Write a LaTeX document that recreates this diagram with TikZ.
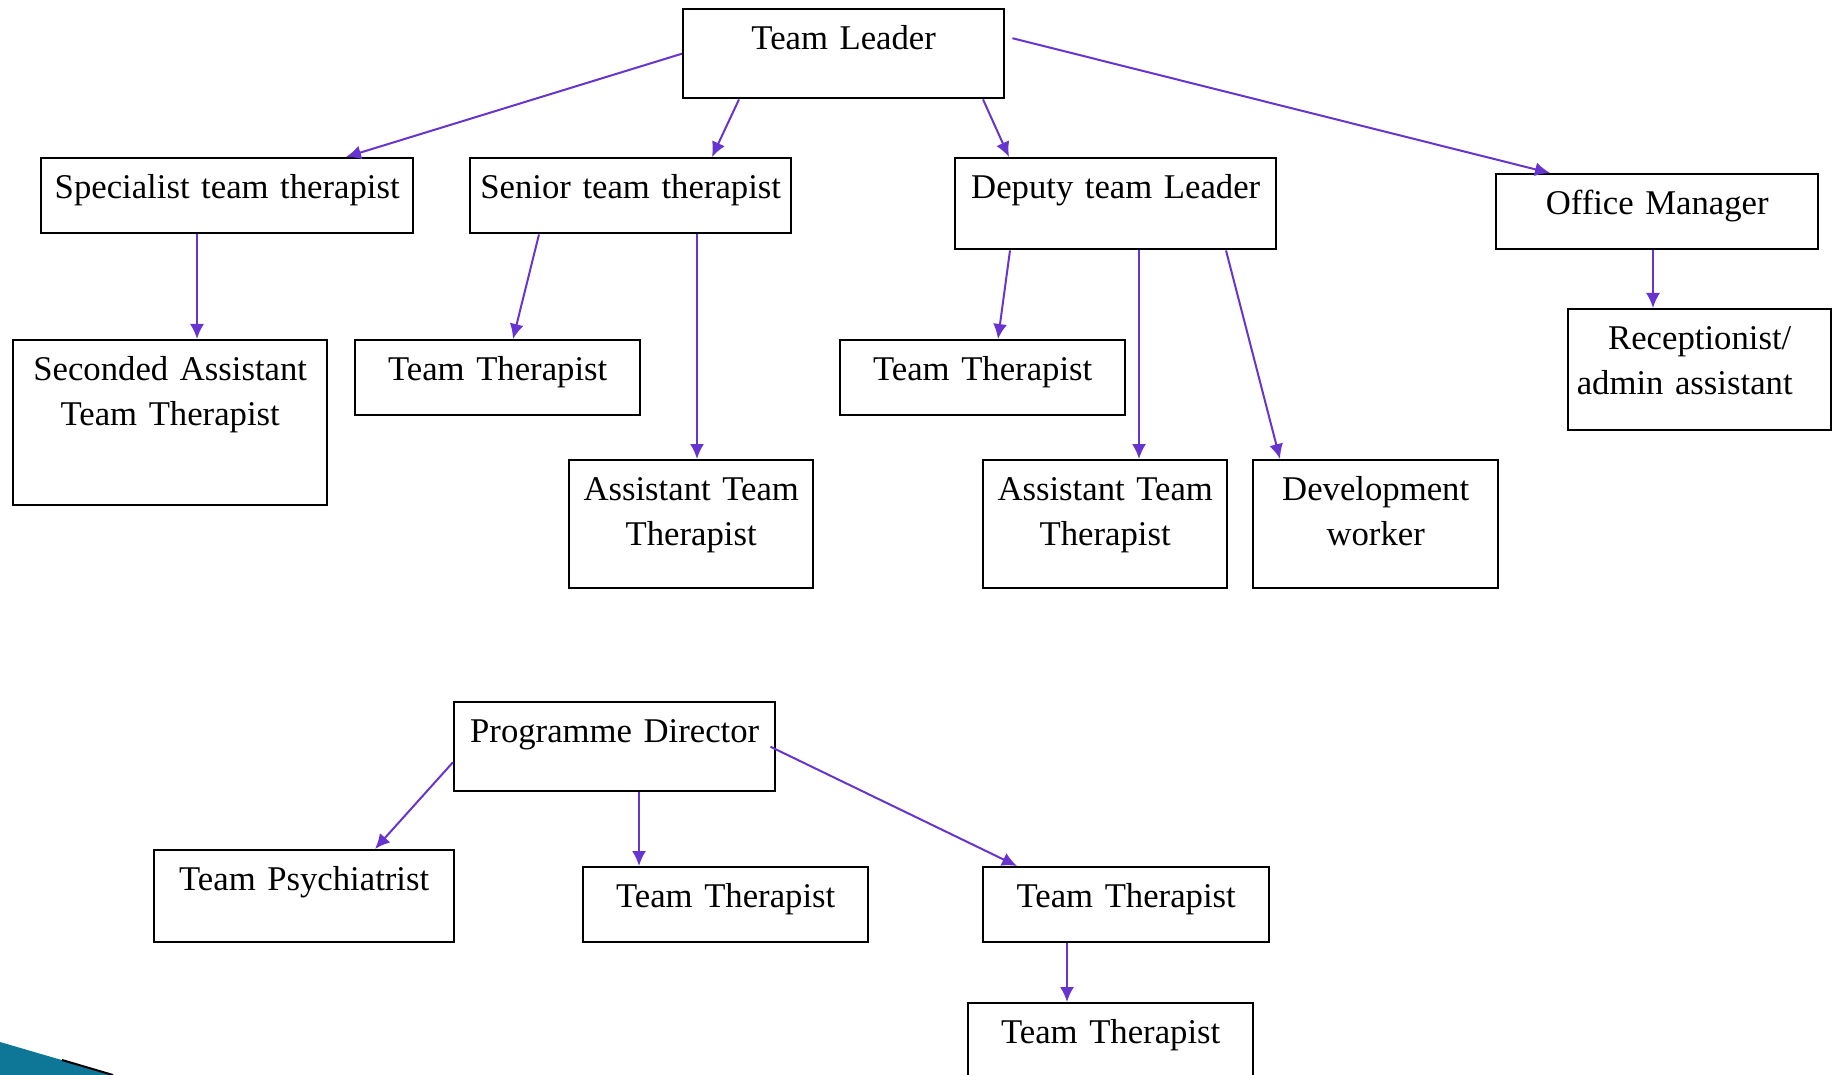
\documentclass[tikz,border=0pt]{standalone}
\usepackage{fontspec}
\setmainfont{Liberation Serif}
\usepackage{tikz}
\usetikzlibrary{arrows.meta}
\definecolor{linkpurple}{RGB}{104,52,208}
\definecolor{wedgeteal}{RGB}{14,118,150}
\tikzset{
  >={Latex[length=15pt,width=14pt]},
}
\tikzstyle{orgbox}=[draw,line width=2.4pt,anchor=north west,inner sep=0pt,align=center,text height=40.5pt,font=\fontsize{34.7}{44.5}\selectfont]
\tikzstyle{link}=[->,line width=2pt,linkpurple]

\begin{document}
\begin{tikzpicture}[x=1pt,y=-1pt]
    \useasboundingbox (0,0) rectangle (1837,1075);
    % upper chart
    \node[orgbox,text width=321pt,text depth=48.5pt] (tl) at (682,8) {Team Leader};
    \node[orgbox,text width=372pt,text depth=34.5pt] (spec) at (40,157) {Specialist team therapist};
    \node[orgbox,text width=321pt,text depth=34.5pt] (senior) at (469,157) {Senior team therapist};
    \node[orgbox,text width=321pt,text depth=50.5pt] (deputy) at (954,157) {Deputy team Leader};
    \node[orgbox,text width=322pt,text depth=34.5pt] (office) at (1495,173) {Office Manager};
    \node[orgbox,text width=314pt,text depth=124.5pt] (seconded) at (12,339) {Seconded Assistant\\Team Therapist};
    \node[orgbox,text width=285pt,text depth=34.5pt] (tta) at (354,339) {Team Therapist};
    \node[orgbox,text width=244pt,text depth=87.5pt] (atta) at (568,459) {Assistant Team\\Therapist};
    \node[orgbox,text width=285pt,text depth=34.5pt] (ttb) at (839,339) {Team Therapist};
    \node[orgbox,text width=244pt,text depth=87.5pt] (attb) at (982,459) {Assistant Team\\Therapist};
    \node[orgbox,text width=245pt,text depth=87.5pt] (dev) at (1252,459) {Development\\worker};
    \node[orgbox,text width=263pt,text depth=80.5pt] (recep) at (1567,308) {Receptionist/\\admin assistant\hspace*{30pt}\mbox{}};
    \draw[link] (tl.west) -- ([xshift=306pt]spec.north west);
    \draw[link] ([xshift=57pt]tl.south west) -- ([xshift=243pt]senior.north west);
    \draw[link] ([xshift=301pt]tl.south west) -- ([xshift=55pt]deputy.north west);
    \draw[link] ([xshift=7pt,yshift=15.5pt]tl.east) -- ([xshift=55pt]office.north west);
    \draw[link] ([xshift=157pt]spec.south west) -- ([xshift=185pt]seconded.north west);
    \draw[link] ([xshift=70pt]senior.south west) -- ([xshift=159pt]tta.north west);
    \draw[link] ([xshift=228pt]senior.south west) -- ([xshift=129pt]atta.north west);
    \draw[link] ([xshift=56pt]deputy.south west) -- ([xshift=159pt]ttb.north west);
    \draw[link] ([xshift=185pt]deputy.south west) -- ([xshift=157pt]attb.north west);
    \draw[link] ([xshift=272pt]deputy.south west) -- ([xshift=28pt]dev.north west);
    \draw[link] ([xshift=158pt]office.south west) -- ([xshift=86pt]recep.north west);
    % lower chart
    \node[orgbox,text width=321pt,text depth=48.5pt] (pd) at (453,701) {Programme Director};
    \node[orgbox,text width=300pt,text depth=51.5pt] (psych) at (153,849) {Team Psychiatrist};
    \node[orgbox,text width=285pt,text depth=34.5pt] (ttc) at (582,866) {Team Therapist};
    \node[orgbox,text width=286pt,text depth=34.5pt] (ttd) at (982,866) {Team Therapist};
    \node[orgbox,text width=285pt,text depth=34.5pt] (tte) at (967,1002) {Team Therapist};
    \draw[link] ([yshift=-15.5pt]pd.west) -- ([xshift=222pt]psych.north west);
    \draw[link] ([xshift=186pt]pd.south west) -- ([xshift=57pt]ttc.north west);
    \draw[link] ([xshift=-6pt]pd.east) -- ([xshift=35pt]ttd.north west);
    \draw[link] ([xshift=85pt]ttd.south west) -- ([xshift=100pt]tte.north west);
    % corner wedge
    \fill[wedgeteal] (0,1042) -- (113,1075) -- (0,1075) -- cycle;
    \draw[line width=2pt,black] (62,1060) -- (113,1075);
\end{tikzpicture}
\end{document}
